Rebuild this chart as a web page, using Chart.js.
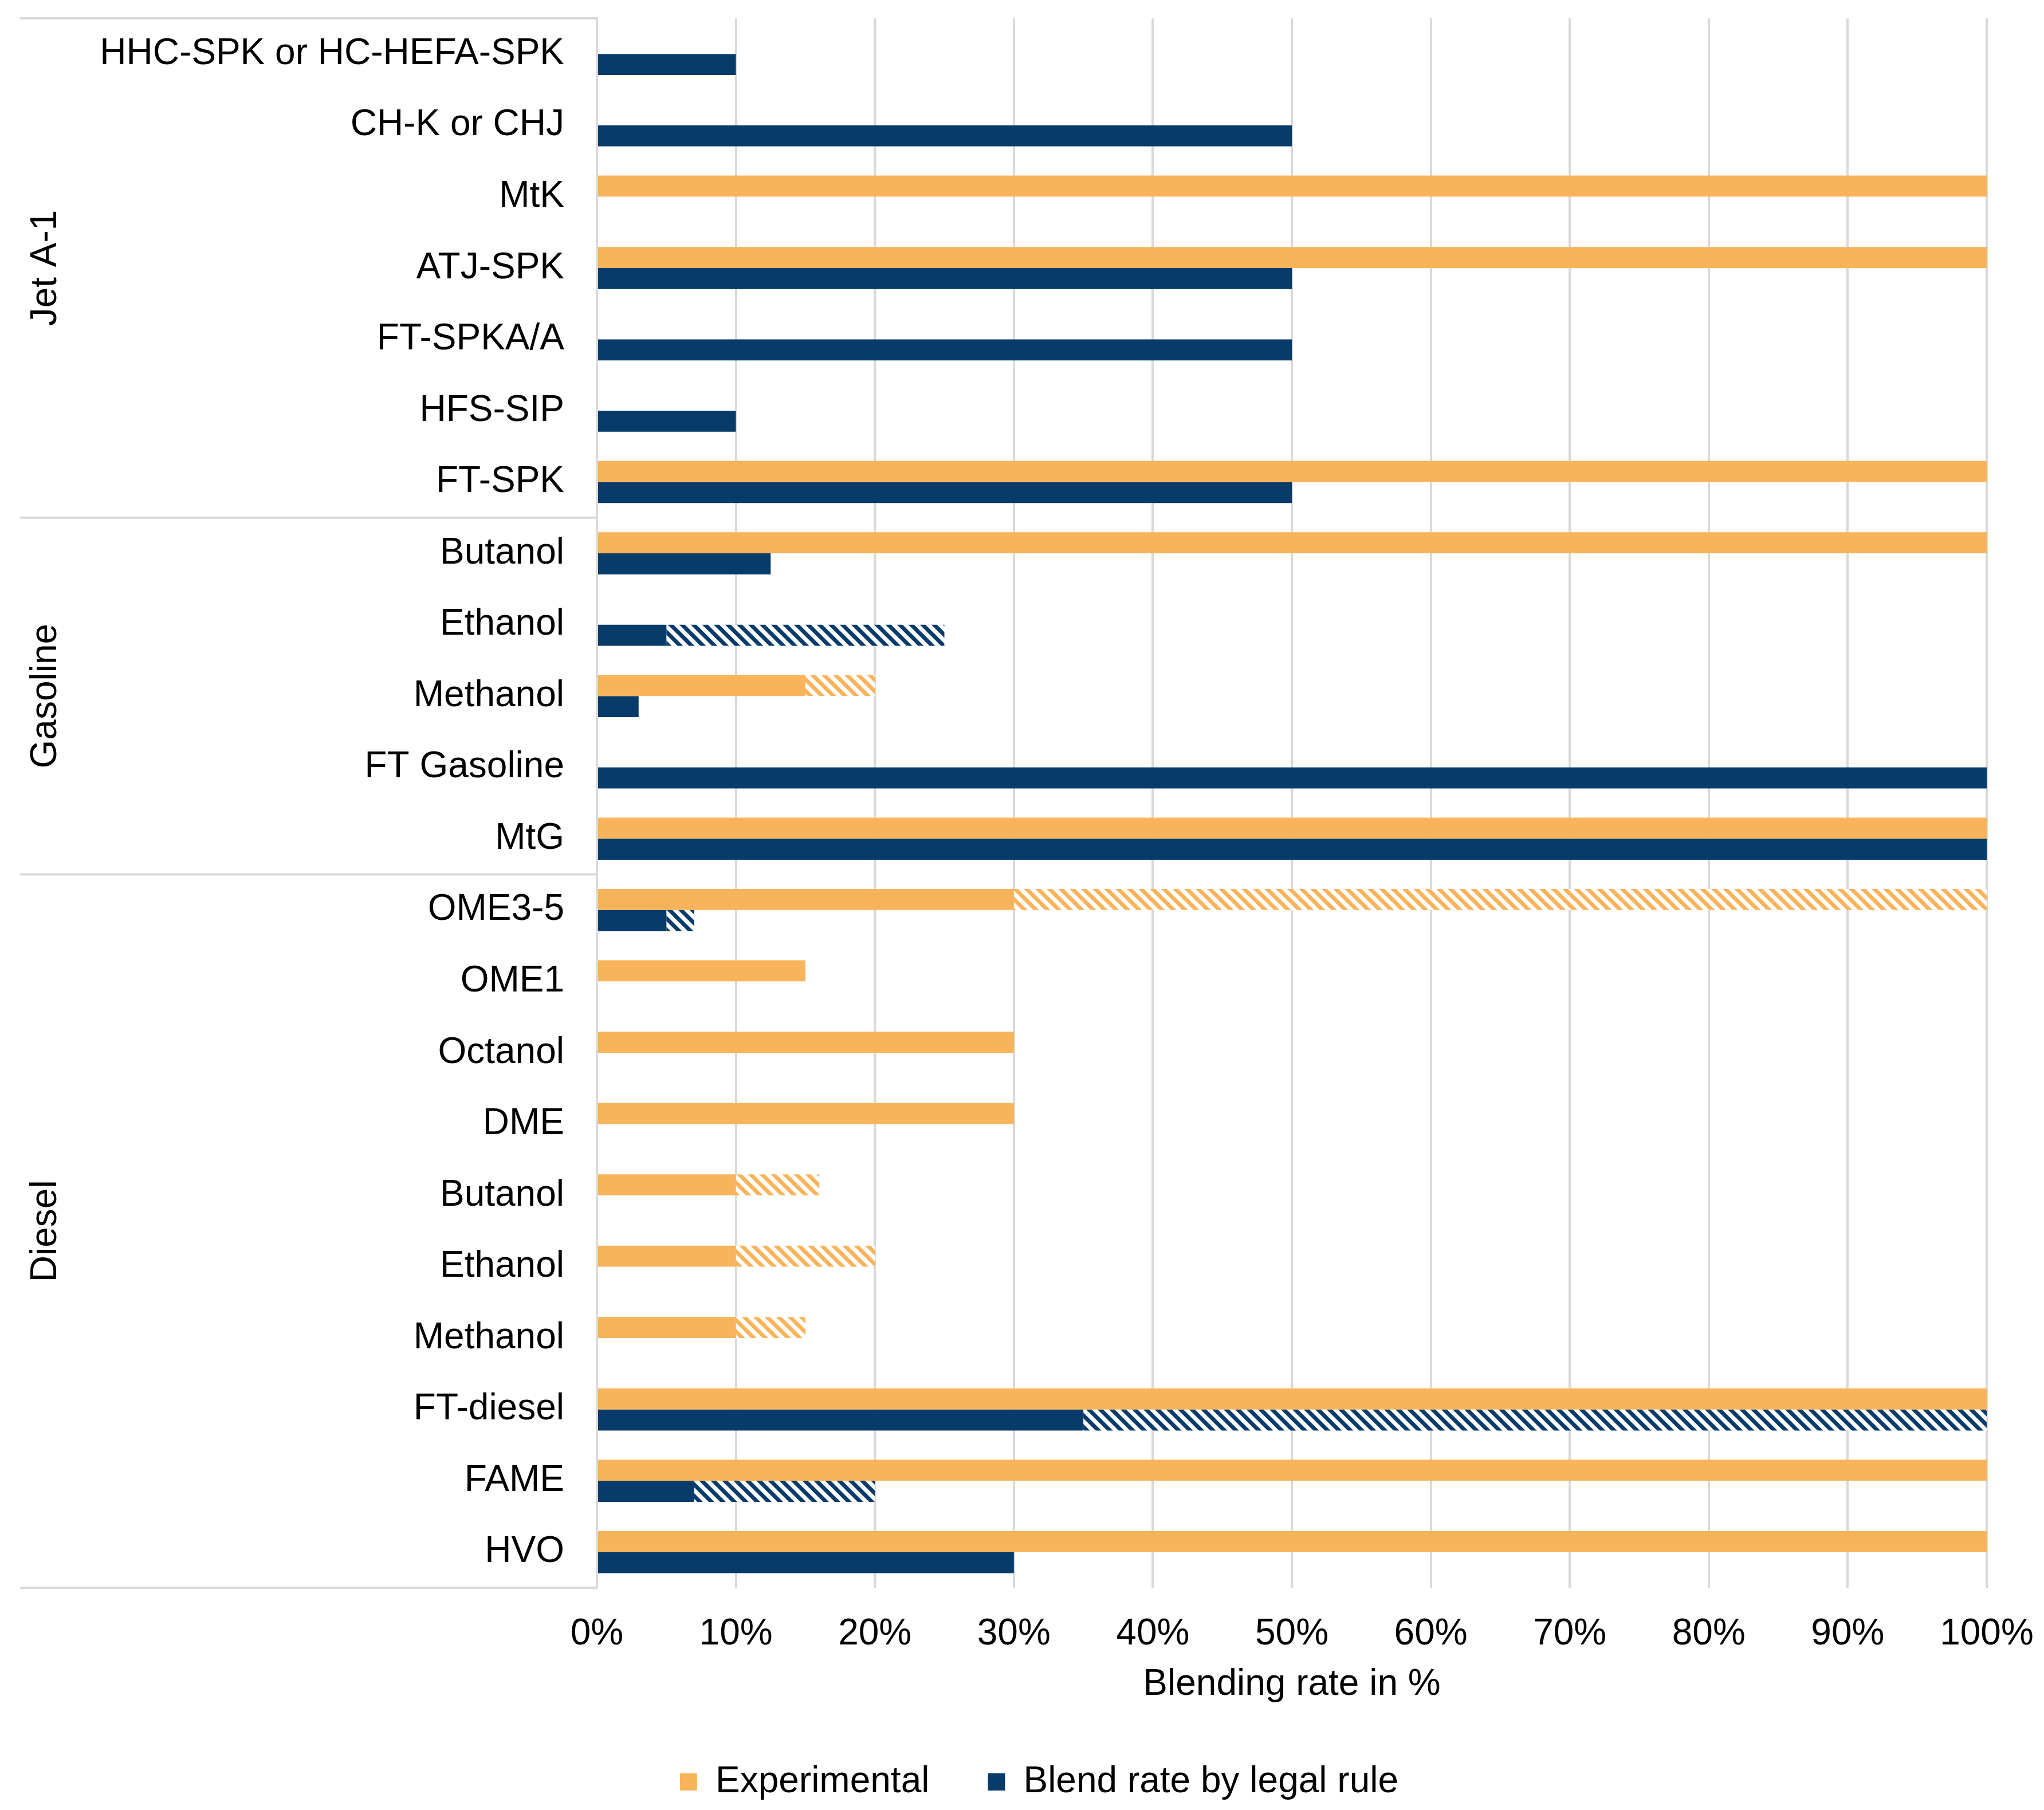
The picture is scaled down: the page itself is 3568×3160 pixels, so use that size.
<!DOCTYPE html>
<html>
<head>
<meta charset="utf-8">
<script src="https://cdn.jsdelivr.net/npm/chart.js@4.4.0/dist/chart.umd.min.js"></script>
<style>
  html, body { margin: 0; padding: 0; background: #fff; }
  #wrap { width: 3568px; height: 3160px; }
</style>
</head>
<body>
<div id="wrap"><canvas id="blendChart"></canvas></div>
<script>
// rows top to bottom
const fuels = [
  'HHC-SPK or HC-HEFA-SPK', 'CH-K or CHJ', 'MtK', 'ATJ-SPK', 'FT-SPKA/A', 'HFS-SIP', 'FT-SPK',
  'Butanol', 'Ethanol', 'Methanol', 'FT Gasoline', 'MtG',
  'OME3-5', 'OME1', 'Octanol', 'DME', 'Butanol', 'Ethanol', 'Methanol', 'FT-diesel', 'FAME', 'HVO'
];
const groups = ['Jet A-1', 'Gasoline', 'Diesel'];
const groupSizes = [7, 5, 10];

// experimental blending rate (solid part + hatched range on top)
const expSolid = [0, 0, 100, 100, 0, 0, 100, 100, 0, 15, 0, 100, 30, 15, 30, 30, 10, 10, 10, 100, 100, 100];
const expRange = [0, 0, 0, 0, 0, 0, 0, 0, 0, 5, 0, 0, 70, 0, 0, 0, 6, 10, 5, 0, 0, 0];
// blend rate allowed by legal rule
const legalSolid = [10, 50, 0, 50, 50, 10, 50, 12.5, 5, 3, 100, 100, 5, 0, 0, 0, 0, 0, 0, 35, 7, 30];
const legalRange = [0, 0, 0, 0, 0, 0, 0, 0, 20, 0, 0, 0, 2, 0, 0, 0, 0, 0, 0, 65, 13, 0];

const xTicks = [0, 10, 20, 30, 40, 50, 60, 70, 80, 90, 100];

const orange = '#F9B45B';
const navy = '#063B6A';
const gridGrey = '#D9D9D9';
const FONT = 'Liberation Sans, Arial, sans-serif';
const PLOT_LEFT = 1042;
const PAD_LEFT = 160;

function hatch(color) {
  const s = 20;
  const c = document.createElement('canvas');
  c.width = s; c.height = s;
  const g = c.getContext('2d');
  g.fillStyle = '#fff';
  g.fillRect(0, 0, s, s);
  g.strokeStyle = color;
  g.lineWidth = 7;
  g.beginPath();
  for (const o of [-s, 0, s]) {
    g.moveTo(o - 3, -3);
    g.lineTo(o + s + 3, s + 3);
  }
  g.stroke();
  return g.createPattern(c, 'repeat');
}

// group labels and separators left of the category labels
const groupPlugin = {
  id: 'fuelGroups',
  afterDraw(chart) {
    const { ctx, chartArea } = chart;
    const y = chart.scales.y;
    const step = (chartArea.bottom - chartArea.top) / fuels.length;
    ctx.save();
    ctx.strokeStyle = gridGrey;
    ctx.lineWidth = 4;
    ctx.fillStyle = '#000';
    ctx.font = '64px ' + FONT;
    ctx.textAlign = 'center';
    ctx.textBaseline = 'middle';
    let row = 0;
    groups.forEach((name, i) => {
      const top = y.getPixelForValue(row) - step / 2;
      const bottom = y.getPixelForValue(row + groupSizes[i] - 1) + step / 2;
      ctx.beginPath();
      ctx.moveTo(35, top);
      ctx.lineTo(chartArea.left, top);
      if (i === groups.length - 1) {
        ctx.moveTo(35, bottom);
        ctx.lineTo(chartArea.left, bottom);
      }
      ctx.stroke();
      ctx.save();
      ctx.translate(80, (top + bottom) / 2);
      ctx.rotate(-Math.PI / 2);
      ctx.fillText(name, 0, 0);
      ctx.restore();
      row += groupSizes[i];
    });
    ctx.restore();
  }
};

new Chart(document.getElementById('blendChart'), {
  type: 'bar',
  data: {
    labels: fuels,
    datasets: [
      { label: 'Experimental', data: expSolid, backgroundColor: orange, stack: 'exp' },
      { label: 'Experimental range', data: expRange, backgroundColor: hatch(orange), stack: 'exp' },
      { label: 'Blend rate by legal rule', data: legalSolid, backgroundColor: navy, stack: 'legal' },
      { label: 'Legal range', data: legalRange, backgroundColor: hatch(navy), stack: 'legal' }
    ]
  },
  options: {
    indexAxis: 'y',
    responsive: true,
    maintainAspectRatio: false,
    devicePixelRatio: 1,
    animation: false,
    layout: { padding: { top: 32, right: 100, left: PAD_LEFT, bottom: 7 } },
    datasets: {
      bar: { categoryPercentage: 0.59, barPercentage: 1.0, borderWidth: 0 }
    },
    scales: {
      x: {
        stacked: true,
        min: 0,
        max: 100,
        afterBuildTicks(scale) { scale.ticks = xTicks.map(v => ({ value: v })); },
        afterFit(scale) {
          scale.height = 205;
          scale.paddingLeft = 0;
          scale.paddingRight = 0;
        },
        grid: { color: gridGrey, lineWidth: 4, drawTicks: false },
        border: { display: false },
        ticks: {
          padding: 43,
          color: '#000',
          font: { family: FONT, size: 64 },
          callback: v => v + '%'
        },
        title: {
          display: true,
          text: 'Blending rate in %',
          color: '#000',
          font: { family: FONT, size: 64 },
          padding: { top: 0, bottom: -3 }
        }
      },
      y: {
        stacked: true,
        afterFit(scale) {
          scale.width = PLOT_LEFT - PAD_LEFT;
          scale.paddingTop = 0;
          scale.paddingBottom = 0;
        },
        grid: { display: false, drawTicks: false },
        border: { display: true, color: gridGrey, width: 4 },
        ticks: {
          padding: 57,
          autoSkip: false,
          color: '#000',
          font: { family: FONT, size: 64 }
        }
      }
    },
    plugins: {
      tooltip: { enabled: false },
      legend: {
        position: 'bottom',
        labels: {
          color: '#000',
          font: { family: FONT, size: 64 },
          boxWidth: 30,
          boxHeight: 30,
          padding: 102,
          filter: item => item.datasetIndex === 0 || item.datasetIndex === 2
        }
      }
    }
  },
  plugins: [groupPlugin]
});
</script>
</body>
</html>
